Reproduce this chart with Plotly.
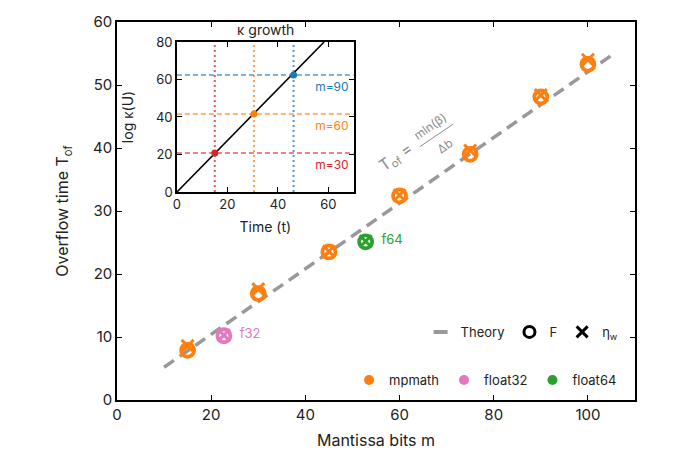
import plotly.graph_objects as go

# Hauptplot: Überlaufzeit gegen Mantissenbits
mp_bits = [15, 30, 45, 60, 75, 90, 100]
mp_F = [7.9, 16.9, 23.5, 32.4, 39.0, 48.1, 53.3]
mp_eta = [8.6, 17.6, 23.6, 32.5, 39.6, 48.4, 54.0]

f32_bits = [22.7]
f32_F = [10.2]
f32_eta = [10.3]

f64_bits = [52.8]
f64_F = [25.1]
f64_eta = [25.2]

theory_m = [10, 105]
theory_T = [5.2, 54.7]

# Inset: kappa growth
kappa_t = [0, 58.3]
kappa_logk = [0, 80]
m_labels = ['m=30', 'm=60', 'm=90']
m_t = [15.0, 30.5, 46.2]
m_logk = [20.8, 41.6, 62.4]
inset_trange = [0, 70]
inset_krange = [0, 80]

ORANGE = '#ff7f0e'
PINK = '#e377c2'
GREEN = '#2ca02c'
INSET_COLS = ['#d62728', '#ff7f0e', '#1f77b4']
INSET_FADED = ['rgba(214,39,40,0.75)', 'rgba(255,127,14,0.75)', 'rgba(31,119,180,0.75)']
GRAY = '#999999'
FONT = 'Inter, Roboto, sans-serif'

fig = go.Figure()

# Theorie-Linie
fig.add_trace(go.Scatter(x=theory_m, y=theory_T, mode='lines',
                         line=dict(color=GRAY, width=3.5, dash='12px,7px'),
                         showlegend=False, hoverinfo='skip'))


def add_points(m, F, eta, color, label=None):
    fig.add_trace(go.Scatter(x=m, y=F, mode='markers',
                             marker=dict(symbol='circle-open', size=13, color=color,
                                         line=dict(width=3.8, color=color)),
                             showlegend=False))
    fig.add_trace(go.Scatter(x=m, y=eta, mode='markers+text' if label else 'markers',
                             text=[label] * len(m) if label else None,
                             textposition='middle right',
                             textfont=dict(color=color, size=13, family=FONT),
                             marker=dict(symbol='x-thin-open', size=12, color=color,
                                         line=dict(width=3, color=color)),
                             showlegend=False))


add_points(mp_bits, mp_F, mp_eta, ORANGE)
add_points(f32_bits, f32_F, f32_eta, PINK, '  f32')
add_points(f64_bits, f64_F, f64_eta, GREEN, '  f64')

# Legende 1: Theorie / F / eta_w
fig.add_trace(go.Scatter(x=[None], y=[None], mode='markers', name='Theory', legend='legend',
                         marker=dict(symbol='line-ew-open', size=10, color=GRAY,
                                     line=dict(width=4, color=GRAY))))
fig.add_trace(go.Scatter(x=[None], y=[None], mode='markers', name='F', legend='legend',
                         marker=dict(symbol='circle-open', size=11, color='black',
                                     line=dict(width=3, color='black'))))
fig.add_trace(go.Scatter(x=[None], y=[None], mode='markers', name='η<sub>w</sub>', legend='legend',
                         marker=dict(symbol='x-thin-open', size=11, color='black',
                                     line=dict(width=3, color='black'))))

# Legende 2: Präzision
for name, col in [('mpmath', ORANGE), ('float32', PINK), ('float64', GREEN)]:
    fig.add_trace(go.Scatter(x=[None], y=[None], mode='markers', name=name, legend='legend2',
                             marker=dict(symbol='circle', size=10, color=col)))

# Inset
for i in range(len(m_labels)):
    fig.add_trace(go.Scatter(x=inset_trange, y=[m_logk[i], m_logk[i]], mode='lines',
                             xaxis='x2', yaxis='y2', showlegend=False,
                             line=dict(color=INSET_FADED[i], width=1.5, dash='5px,3px')))
    fig.add_trace(go.Scatter(x=[m_t[i], m_t[i]], y=inset_krange, mode='lines',
                             xaxis='x2', yaxis='y2', showlegend=False,
                             line=dict(color=INSET_FADED[i], width=2, dash='2px,3px')))
    fig.add_trace(go.Scatter(x=[inset_trange[1] - 2], y=[m_logk[i] - 7], mode='text',
                             text=[m_labels[i]], textposition='middle left',
                             textfont=dict(color=INSET_COLS[i], size=12, family=FONT),
                             xaxis='x2', yaxis='y2', showlegend=False))

fig.add_trace(go.Scatter(x=kappa_t, y=kappa_logk, mode='lines', xaxis='x2', yaxis='y2',
                         line=dict(color='black', width=1.6), showlegend=False))
fig.add_trace(go.Scatter(x=m_t, y=m_logk, mode='markers', xaxis='x2', yaxis='y2',
                         marker=dict(size=7, color=INSET_COLS), showlegend=False))

axis_common = dict(showline=True, linecolor='black', linewidth=1.5, mirror='ticks',
                   ticks='inside', ticklen=5, tickwidth=1.2, tickcolor='black',
                   showgrid=False, zeroline=False, automargin=False)

# Seite hat 8px Body-Rand, daher 672x456 mit angepassten Rändern
fig.update_layout(
    width=672, height=456,
    margin=dict(l=109, r=45, t=14, b=64),
    paper_bgcolor='white', plot_bgcolor='white',
    font=dict(family=FONT, color='#222222', size=14),
    xaxis=dict(range=[0, 110], tickvals=[0, 20, 40, 60, 80, 100],
               title=dict(text='Mantissa bits m', font=dict(size=16), standoff=12),
               tickfont=dict(size=15), **axis_common),
    yaxis=dict(range=[0, 60], dtick=10,
               title=dict(text='Overflow time T<sub>of</sub>', font=dict(size=16), standoff=20),
               tickfont=dict(size=15), **axis_common),
    xaxis2=dict(domain=[0.1157, 0.4569], anchor='y2', range=inset_trange,
                tickvals=[0, 20, 40, 60],
                title=dict(text='Time (t)', font=dict(size=14), standoff=11),
                tickfont=dict(size=13), **axis_common),
    yaxis2=dict(domain=[0.5503, 0.9471], anchor='x2', range=inset_krange, dtick=20,
                title=dict(text='log κ(U)', font=dict(size=14), standoff=19),
                tickfont=dict(size=13), **axis_common),
    legend=dict(orientation='h', x=0.978, xanchor='right', y=0.18, yanchor='middle',
                font=dict(size=13), bgcolor='rgba(0,0,0,0)'),
    legend2=dict(orientation='h', x=0.975, xanchor='right', y=0.053, yanchor='middle',
                 font=dict(size=13), bgcolor='rgba(0,0,0,0)'),
    annotations=[
        dict(text='κ growth', xref='paper', yref='paper', x=0.286, y=0.981,
             xanchor='center', yanchor='middle',
             showarrow=False, font=dict(size=14, color='#222222')),
        dict(text='T<sub>of</sub> =', x=59.3, y=38.5, showarrow=False, textangle=-35,
             xanchor='center', yanchor='middle',
             font=dict(size=16, color='#8c8c8c')),
        dict(text='mln(β)', x=66.4, y=43.4, showarrow=False, textangle=-35,
             xanchor='center', yanchor='middle',
             font=dict(size=12, color='#8c8c8c')),
        dict(text='Δb', x=69.7, y=40.4, showarrow=False, textangle=-35,
             xanchor='center', yanchor='middle',
             font=dict(size=12, color='#8c8c8c')),
    ],
    shapes=[dict(type='line', x0=64.3, y0=40.2, x1=71.4, y1=43.8,
                 line=dict(color='#8c8c8c', width=1))],
)

fig.write_html("out.html")
